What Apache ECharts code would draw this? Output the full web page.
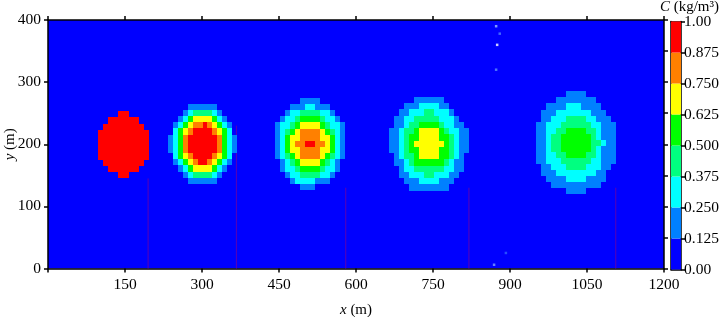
<!DOCTYPE html>
<html><head><meta charset="utf-8">
<style>html,body{margin:0;padding:0;background:#fff}#c{width:720px;height:317px}</style>
<script src="https://cdn.jsdelivr.net/npm/echarts@6/dist/echarts.min.js"></script>
</head><body><div id="c"></div>
<script>
// band colours, one per 0.125 of C
const bandColors = ['#0000ff','#0080ff','#00ffff','#00ff80','#00ff00','#ffff00','#ff8000','#ff0000'];
const colorbarTicks = ['0.00','0.125','0.250','0.375','0.500','0.625','0.750','0.875','1.00'];

const plume1 = [
 '0000770000','0077777700','0777777770','7777777777','7777777777','7777777777','7777777777','7777777777','0777777770','0077777700','0000770000'];
const plume2 = [
 '00001111110000','00012333321000','00124555542100','01245667654210','02456777765420',
 '12467777776421','12467777776421','12467777776421','02456777765420','01245677654210',
 '00124555542100','00012333321000','00001111110000'];
const plume3 = [
 '00000111100000','00011122111000','00122333322100','01223444432210','12234555543221',
 '12345666654321','12455666655421','12456677665421','12455666655421','12345666654321',
 '01234555543210','01223444432210','00122333322100','00012222111000','00000111000000'];
const plume4 = [
 '0000011111100000','0001112222110000','0011222332221000','0112233333222100','0112334444322110',
 '1123345555432211','1123445555443211','1123455555543211','1123445555443211','0123345555443210',
 '0112344444432110','0012233333322110','0011222332221100','0001112222111000','0000111111110000'];
const plume5 = [
 '0000001111000000','0000111111110000','0011112221111000','0111222222211100','0112223333221110',
 '1122233333322111','1122334444332111','1123344444432111','1123344444433211','1123344444432111',
 '1122334444332111','1122233333322111','0112223333222110','0111222222221100','0011112222111100',
 '0001111111111000','0000001111000000'];
const plumeRows = [plume1, plume2, plume3, plume4, plume5];
// left edge, top edge, cell width, cell height of each plume's cells (metres)
const plumeX0 = [97.4, 233.8, 441.6, 664.3, 950.7];
const plumeY0 = [252.9, 265.3, 275, 276, 285];
const plumeDx = [9.94, 9.6, 9.79, 9.74, 9.74];
const plumeDy = [9.8, 9.95, 9.93, 10.03, 9.7];

// thin dark traces under the plumes [x, top y]
const traceX = [195, 367, 580, 820, 1106];
const traceTop = [145, 230, 130, 130, 130];
// isolated bright specks
const speckX = [873, 880, 875, 873, 869, 892];
const speckY = [390, 378, 360, 320, 6, 25];
const speckColor = ['#a0c0ff','#5080ff','#ffffff','#6090ff','#80a0ff','#3060ff'];

const cells = [];
plumeRows.forEach((rows, p) => rows.forEach((row, r) => {
  [...row].forEach((ch, c) => {
    const lvl = +ch;
    if (lvl > 0) cells.push([
      plumeX0[p] + c * plumeDx[p], plumeY0[p] - r * plumeDy[p],
      plumeX0[p] + (c + 1) * plumeDx[p], plumeY0[p] - (r + 1) * plumeDy[p], lvl]);
  });
}));

const font = '"Liberation Serif","Times New Roman",serif';
const axisLine = {show:true, onZero:false, lineStyle:{color:'#000', width:1.5}};
const tick = {show:true, length:4, lineStyle:{color:'#000', width:1.5}};
const noTick = {show:false};
const lab = {fontFamily:font, fontSize:15.5, color:'#000'};
const italic = {i:{fontFamily:font, fontSize:15, fontStyle:'italic', color:'#000'}};

const chart = echarts.init(document.getElementById('c'), null, {renderer:'canvas'});
const series = [
 {type:'custom', xAxisIndex:0, yAxisIndex:0, clip:true, z:2,
  data: cells, encode:{x:[0,2], y:[1,3]},
  renderItem(params, api){
    const a = api.coord([api.value(0), api.value(1)]);
    const b = api.coord([api.value(2), api.value(3)]);
    const x = Math.round(a[0]), y = Math.round(a[1]);
    return {type:'rect', shape:{x, y, width:Math.round(b[0])-x, height:Math.round(b[1])-y},
      style:{fill:bandColors[api.value(4)]}};
  }},
 ...traceX.map((x,i)=>({type:'line', xAxisIndex:0, yAxisIndex:0, z:1, symbol:'none', silent:true,
   data:[[x,0],[x,traceTop[i]]], lineStyle:{color:'#5a00b4', width:1}})),
 {type:'scatter', xAxisIndex:0, yAxisIndex:0, z:3, symbol:'rect', symbolSize:2.5, silent:true,
   data:speckX.map((x,i)=>({value:[x,speckY[i]], itemStyle:{color:speckColor[i]}}))},
 ...bandColors.map(col=>({type:'bar', xAxisIndex:2, yAxisIndex:2, stack:'cb', barWidth:'100%', silent:true,
   data:[0.125], itemStyle:{color:col}}))
];
chart.setOption({
 animation:false,
 backgroundColor:'#fff',
 title:{text:'{i|C} (kg/m\u00B3)', right:1, top:0, padding:0,
   textStyle:{fontFamily:font, fontSize:15, fontWeight:'normal', color:'#000', rich:italic}},
 grid:[
  {left:48, top:20, width:616, height:248.5, show:true, backgroundColor:'#0000ff', borderWidth:0, outerBoundsMode:'none'},
  {left:671, top:21.5, width:10, height:248, outerBoundsMode:'none'}
 ],
 xAxis:[
  {type:'value', gridIndex:0, min:0, max:1200, interval:150, position:'bottom',
   axisLine, axisTick:tick, splitLine:{show:false},
   axisLabel:{...lab, margin:8, formatter:v=>v===0?'':String(v), showMinLabel:true},
   name:'{i|x} (m)', nameLocation:'middle', nameGap:34, nameMoveOverlap:false,
   nameTextStyle:{...lab, fontSize:15, rich:italic}},
  {type:'value', gridIndex:0, min:0, max:1200, interval:150, position:'top',
   axisLine, axisTick:tick, axisLabel:{show:false}, splitLine:{show:false}},
  {type:'category', gridIndex:1, data:['C'], position:'bottom', axisLine:{...axisLine}, axisTick:noTick, axisLabel:{show:false}},
  {type:'category', gridIndex:1, data:['C'], position:'top', axisLine:{...axisLine}, axisTick:noTick, axisLabel:{show:false}}
 ],
 yAxis:[
  {type:'value', gridIndex:0, min:0, max:400, interval:100, position:'left',
   axisLine, axisTick:tick, splitLine:{show:false}, axisLabel:{...lab, margin:7},
   name:'{i|y} (m)', nameLocation:'middle', nameGap:30, nameMoveOverlap:false,
   nameTextStyle:{...lab, fontSize:15, rich:italic}},
  {type:'value', gridIndex:0, min:0, max:400, interval:50, position:'right',
   axisLine, axisTick:tick, axisLabel:{show:false}, splitLine:{show:false}},
  {type:'value', gridIndex:1, min:0, max:1, interval:0.125, position:'right',
   axisLine, axisTick:tick, splitLine:{show:false},
   axisLabel:{...lab, margin:3, formatter:(v)=>colorbarTicks[Math.round(v/0.125)]}},
  {type:'value', gridIndex:1, min:0, max:1, interval:0.125, position:'left',
   axisLine, axisTick:noTick, axisLabel:{show:false}, splitLine:{show:false}}
 ],
 series
});
</script></body></html>
